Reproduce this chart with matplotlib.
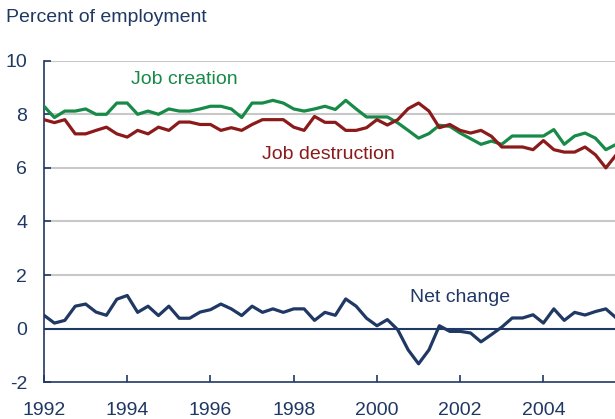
import numpy as np
import matplotlib
matplotlib.use("Agg")
import matplotlib.pyplot as plt

plt.rcParams['font.family'] = ['Liberation Sans', 'DejaVu Sans']

# Quarterly data, 1992Q1 onward
start_year = 1992
job_creation = [8.3, 7.88, 8.12, 8.12, 8.2, 8.0, 8.0, 8.42, 8.42, 8.0, 8.12, 8.0, 8.2, 8.12, 8.12, 8.2,
                8.3, 8.3, 8.2, 7.88, 8.42, 8.42, 8.52, 8.42, 8.2, 8.12, 8.2, 8.3, 8.18, 8.52, 8.2, 7.9,
                7.9, 7.9, 7.68, 7.4, 7.11, 7.28, 7.59, 7.55, 7.3, 7.09, 6.88, 7.0, 6.88, 7.19, 7.19, 7.19,
                7.19, 7.43, 6.88, 7.19, 7.3, 7.11, 6.68, 6.88]
job_destruction = [7.8, 7.69, 7.8, 7.27, 7.27, 7.4, 7.52, 7.27, 7.15, 7.4, 7.27, 7.52, 7.4, 7.71, 7.71, 7.62,
                   7.62, 7.4, 7.5, 7.4, 7.62, 7.8, 7.8, 7.8, 7.52, 7.4, 7.92, 7.7, 7.7, 7.4, 7.4, 7.5,
                   7.8, 7.6, 7.8, 8.21, 8.42, 8.12, 7.5, 7.62, 7.4, 7.3, 7.4, 7.18, 6.78, 6.78, 6.78, 6.68,
                   7.02, 6.68, 6.59, 6.59, 6.78, 6.49, 6.0, 6.49]
net_change = [0.5, 0.21, 0.31, 0.84, 0.92, 0.62, 0.5, 1.1, 1.24, 0.61, 0.84, 0.49, 0.84, 0.39, 0.39, 0.62,
              0.71, 0.92, 0.74, 0.49, 0.84, 0.61, 0.74, 0.61, 0.74, 0.74, 0.31, 0.61, 0.5, 1.11, 0.84, 0.39,
              0.11, 0.34, -0.04, -0.79, -1.31, -0.79, 0.11, -0.1, -0.1, -0.16, -0.49, -0.22, 0.06, 0.4,
              0.4, 0.52, 0.21, 0.74, 0.31, 0.61, 0.51, 0.64, 0.74, 0.4]
x_ticks = [1992, 1994, 1996, 1998, 2000, 2002, 2004]
y_ticks = [-2, 0, 2, 4, 6, 8, 10]

x = start_year + np.arange(len(job_creation)) * 0.25

navy = '#1f3864'
green = '#178a48'
red = '#8b1a1a'
grid = '#c8c8c8'

fig = plt.figure(figsize=(6.15, 4.19), dpi=100)
ax = fig.add_axes([44/615, (419-382.3)/419, 571/615, 321.6/419])
ax.set_xlim(1992, 2005.72)
ax.set_ylim(-2, 10)

for yv in [2, 4, 6, 8, 10]:
    ax.axhline(yv, color=grid, lw=1.5, zorder=1)
ax.axhline(0, color=navy, lw=1.5, zorder=2)

ax.plot(x, job_creation, color=green, lw=2.3, zorder=3)
ax.plot(x, job_destruction, color=red, lw=2.3, zorder=3)
ax.plot(x, net_change, color=navy, lw=2.3, zorder=3)

for s in ['top', 'right']:
    ax.spines[s].set_visible(False)
for s in ['left', 'bottom']:
    ax.spines[s].set_color(navy)
    ax.spines[s].set_linewidth(1.2)

ax.set_xticks(x_ticks)
ax.set_xticklabels([str(v) for v in x_ticks])
ax.set_yticks(y_ticks)
ax.set_yticklabels([str(v) for v in y_ticks])
ax.tick_params(axis='both', direction='in', colors=navy, labelcolor=navy, labelsize=14,
               length=5, width=1.2)
ax.tick_params(axis='y', pad=12)
ax.tick_params(axis='x', pad=14)

fig.text(6/615, 1 - 18/419, 'Percent of employment', color=navy, fontsize=14, va='center', ha='left')
ax.text(1994.1, 9.3, 'Job creation', color=green, fontsize=14, va='center', ha='left')
ax.text(1997.25, 6.5, 'Job destruction', color=red, fontsize=14, va='center', ha='left')
ax.text(2000.8, 1.15, 'Net change', color=navy, fontsize=14, va='center', ha='left')

fig.savefig('out.png', dpi=100)
